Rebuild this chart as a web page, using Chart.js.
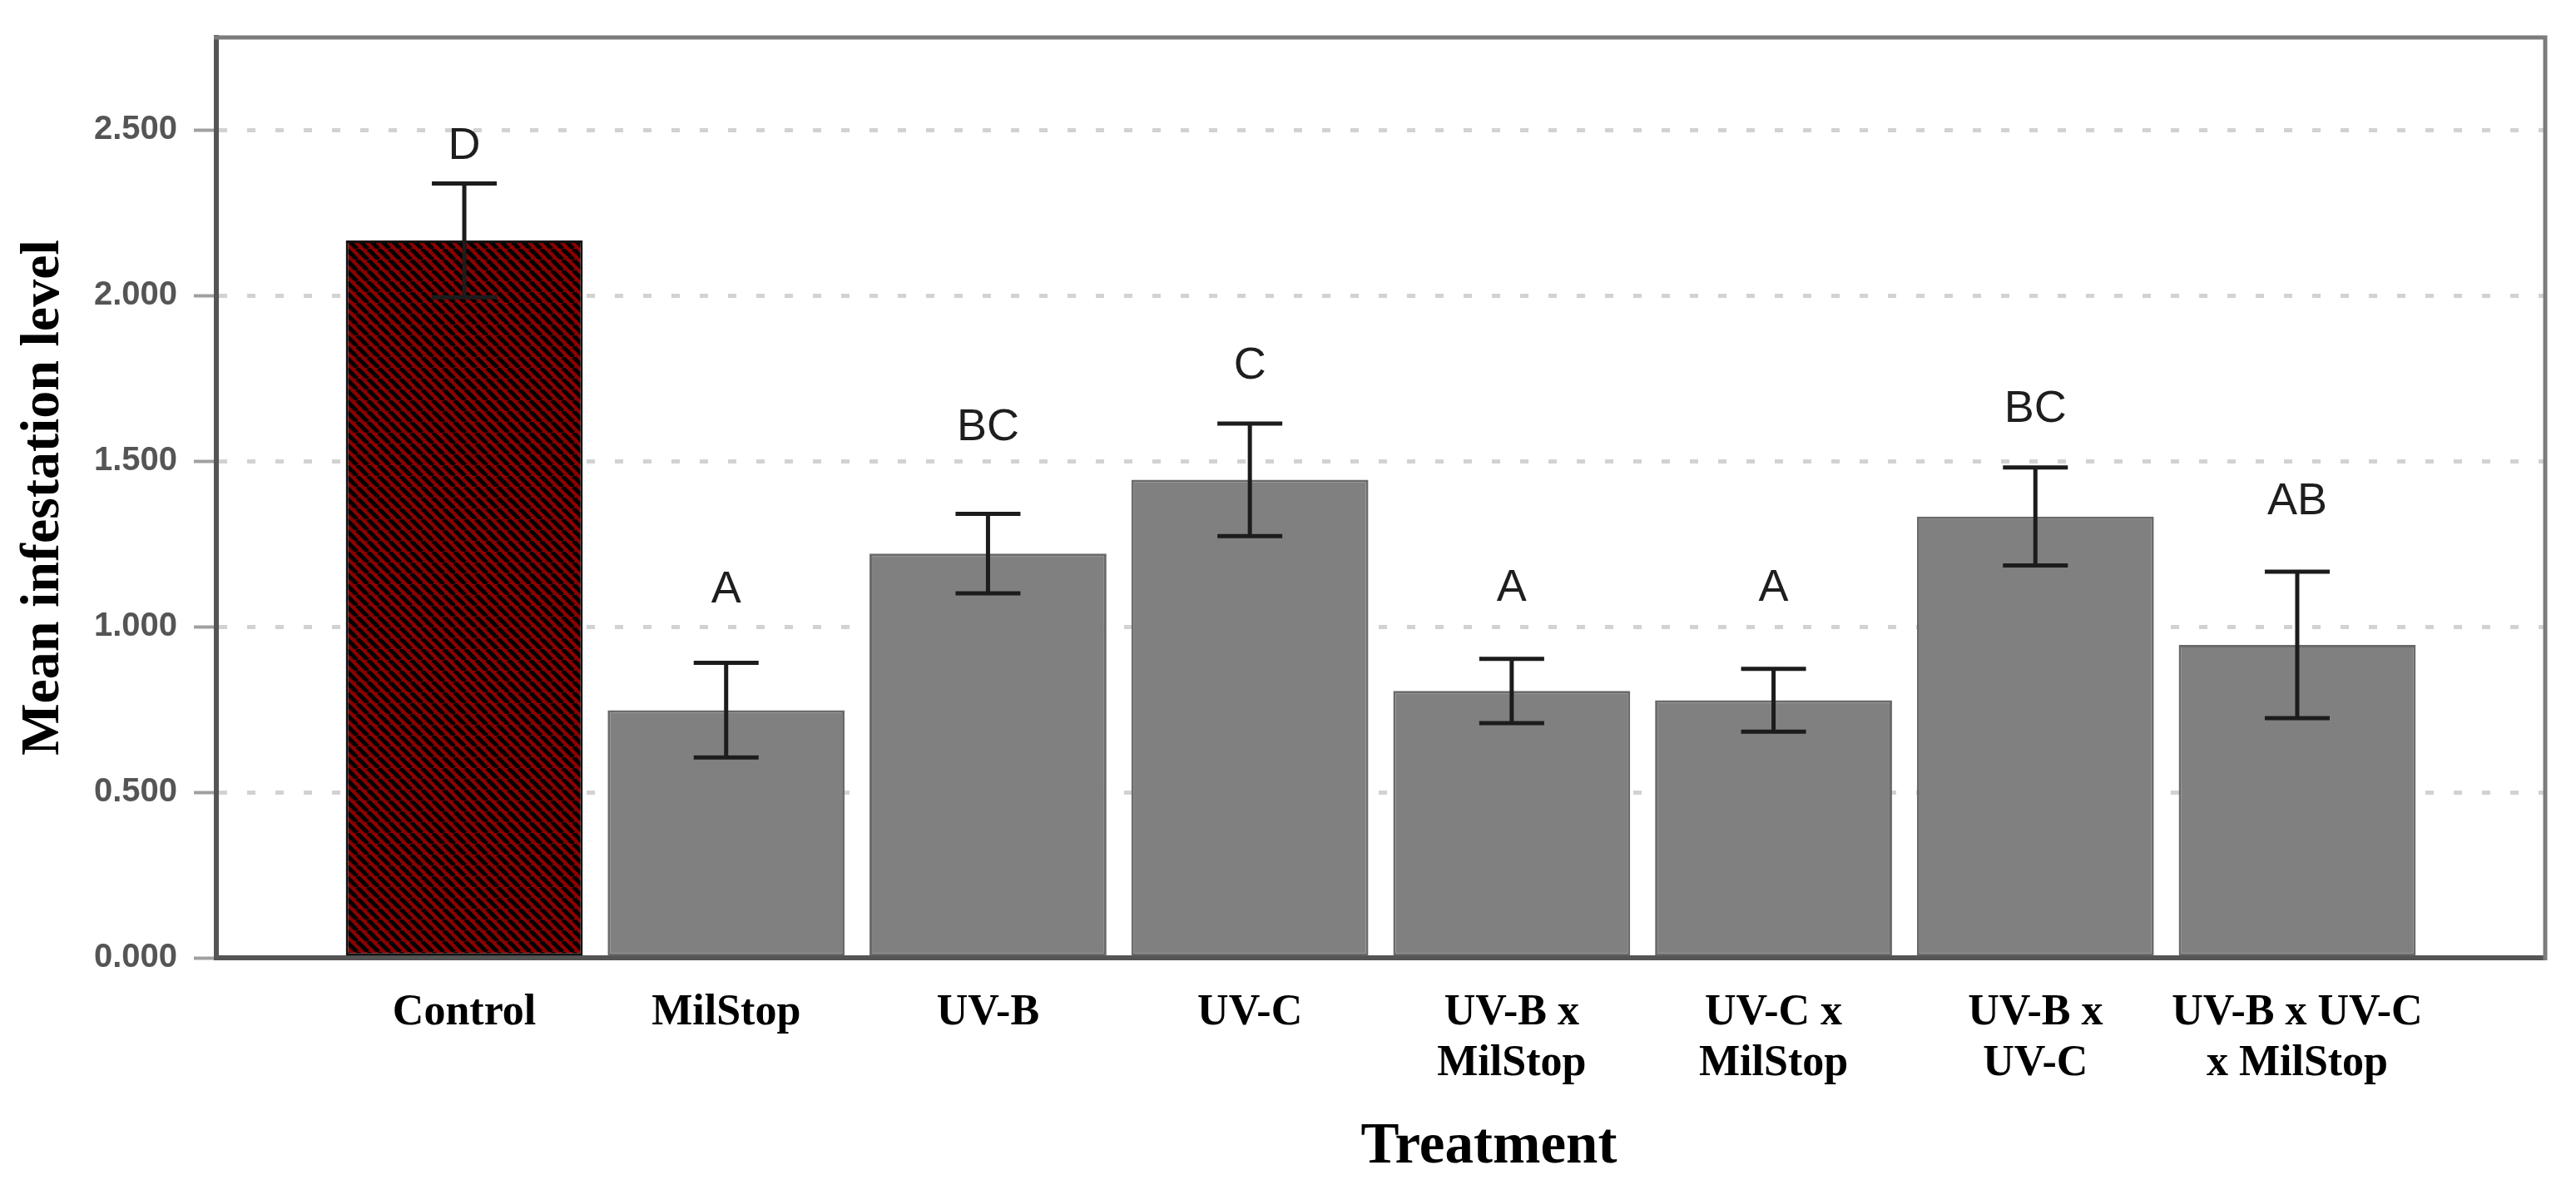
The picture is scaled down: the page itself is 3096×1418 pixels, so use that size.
<!DOCTYPE html>
<html>
<head>
<meta charset="utf-8">
<script src="https://cdn.jsdelivr.net/npm/chart.js@4.4.0/dist/chart.umd.min.js"></script>
<style>
  html, body { margin: 0; padding: 0; background: #fff; }
  #wrap { width: 3096px; height: 1418px; position: relative; }
</style>
</head>
<body>
<div id="wrap"><canvas id="chart"></canvas></div>
<script>
// values
const treatments = [['Control'], ['MilStop'], ['UV-B'], ['UV-C'], ['UV-B x', 'MilStop'], ['UV-C x', 'MilStop'], ['UV-B x', 'UV-C'], ['UV-B x UV-C', 'x MilStop']];
const meanLevel = [2.167, 0.748, 1.221, 1.444, 0.806, 0.778, 1.333, 0.945];
const errorBar = [0.172, 0.143, 0.120, 0.170, 0.097, 0.095, 0.148, 0.221];
const groupLetters = ['D', 'A', 'BC', 'C', 'A', 'A', 'BC', 'AB'];
const letterLevel = [2.45, 1.11, 1.60, 1.787, 1.115, 1.115, 1.656, 1.378];
const yTicks = [0, 0.5, 1, 1.5, 2, 2.5];

const serif = '"Liberation Serif", "Times New Roman", serif';
const sans = '"Liberation Sans", Arial, sans-serif';

function makeHatch() {
    const s = 13;
    const c = document.createElement('canvas');
    c.width = s;
    c.height = s;
    const g = c.getContext('2d');
    g.fillStyle = '#8b0000';
    g.fillRect(0, 0, s, s);
    g.strokeStyle = '#000';
    g.lineWidth = 5;
    for (let k = -1; k <= 1; k++) {
        g.beginPath();
        g.moveTo(k * s, 0);
        g.lineTo(k * s + s, s);
        g.stroke();
    }
    return g.createPattern(c, 'repeat');
}

const hatch = makeHatch();
const barFill = meanLevel.map((_, i) => i === 0 ? hatch : '#808080');
const barEdge = meanLevel.map((_, i) => i === 0 ? '#111' : '#6a6a6a');

const errorBarsAndLetters = {
    id: 'errorBarsAndLetters',
    afterDatasetsDraw(chart) {
        const ctx = chart.ctx;
        const xs = chart.scales.x;
        const ys = chart.scales.y;
        ctx.save();
        ctx.strokeStyle = '#1c1c1c';
        ctx.lineWidth = 5;
        meanLevel.forEach((m, i) => {
            const px = xs.getPixelForValue(i);
            const top = ys.getPixelForValue(m + errorBar[i]);
            const bot = ys.getPixelForValue(m - errorBar[i]);
            ctx.beginPath();
            ctx.moveTo(px, top);
            ctx.lineTo(px, bot);
            ctx.moveTo(px - 39, top);
            ctx.lineTo(px + 39, top);
            ctx.moveTo(px - 39, bot);
            ctx.lineTo(px + 39, bot);
            ctx.stroke();
        });
        ctx.fillStyle = '#1e1e1e';
        ctx.font = '54px ' + sans;
        ctx.textAlign = 'center';
        ctx.textBaseline = 'middle';
        groupLetters.forEach((t, i) => {
            ctx.fillText(t, xs.getPixelForValue(i), ys.getPixelForValue(letterLevel[i]));
        });
        ctx.restore();
    }
};

// top and right sides of the box, plus the x axis title
const frameAndTitle = {
    id: 'frameAndTitle',
    afterDraw(chart) {
        const ctx = chart.ctx;
        const a = chart.chartArea;
        ctx.save();
        ctx.strokeStyle = '#7c7c7c';
        ctx.lineWidth = 5;
        ctx.beginPath();
        ctx.moveTo(a.left - 3, a.top);
        ctx.lineTo(a.right, a.top);
        ctx.lineTo(a.right, a.bottom + 3);
        ctx.stroke();
        ctx.fillStyle = '#000';
        ctx.font = 'bold 69px ' + serif;
        ctx.textAlign = 'center';
        ctx.textBaseline = 'alphabetic';
        ctx.fillText('Treatment', (a.left + a.right) / 2 + 130, 1397);
        ctx.restore();
    }
};

new Chart(document.getElementById('chart'), {
    type: 'bar',
    data: {
        datasets: [{
            data: meanLevel.map((v, i) => ({ x: i, y: v })),
            backgroundColor: barFill,
            borderColor: barEdge,
            borderWidth: 3,
            borderSkipped: false,
            categoryPercentage: 1.0,
            barPercentage: 0.905
        }]
    },
    options: {
        responsive: true,
        maintainAspectRatio: false,
        devicePixelRatio: 1,
        animation: false,
        layout: { padding: { top: 45, right: 37, left: 0, bottom: 0 } },
        plugins: {
            legend: { display: false },
            tooltip: { enabled: false }
        },
        scales: {
            x: {
                type: 'linear',
                offset: false,
                min: -0.947,
                max: 7.947,
                grid: { display: false, offset: false },
                border: { color: '#555', width: 6 },
                afterBuildTicks: s => { s.ticks = treatments.map((_, i) => ({ value: i })); },
                afterFit: s => { s.height = 267; },
                ticks: {
                    autoSkip: false,
                    maxRotation: 0,
                    padding: 28,
                    color: '#000',
                    font: { family: serif, weight: 'bold', size: 52, lineHeight: 1.17 },
                    callback: v => treatments[v]
                }
            },
            y: {
                min: 0,
                max: 2.78,
                afterBuildTicks: s => { s.ticks = yTicks.map(v => ({ value: v })); },
                afterFit: s => { s.width = 260; },
                grid: { color: '#d2d2d2', lineWidth: 5, tickLength: 27, tickColor: '#a0a0a0', tickWidth: 4, tickBorderDash: [] },
                border: { color: '#555', width: 6, dash: [10, 24] },
                ticks: {
                    padding: 20,
                    color: '#555',
                    font: { family: sans, weight: 'bold', size: 40 },
                    callback: v => v.toFixed(3)
                },
                title: {
                    display: true,
                    text: 'Mean infestation level',
                    color: '#000',
                    padding: { top: 13, bottom: 0 },
                    font: { family: serif, weight: 'bold', size: 66 }
                }
            }
        }
    },
    plugins: [errorBarsAndLetters, frameAndTitle]
});
</script>
</body>
</html>
